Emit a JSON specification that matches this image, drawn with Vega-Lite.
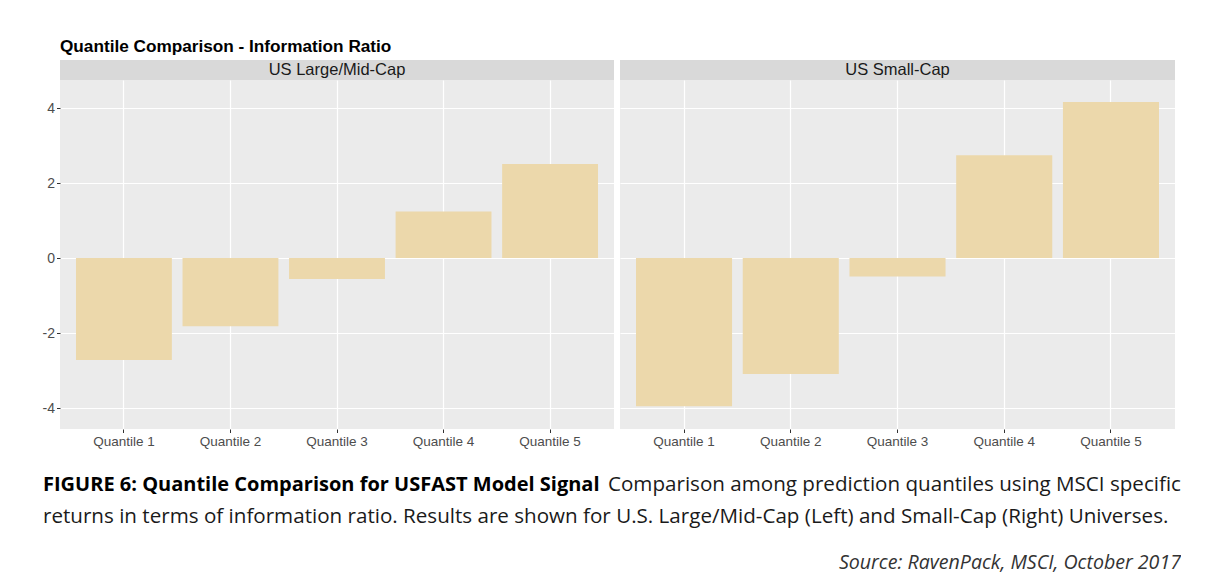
{
  "$schema": "https://vega.github.io/schema/vega-lite/v6.json",
  "background": "white",
  "padding": {"left": 42, "top": 37, "right": 0, "bottom": 0},
  "config": {
    "view": {"stroke": null},
    "font": "Liberation Sans",
    "concat": {"spacing": 6}
  },
  "datasets": {
    "ir": [
      {"universe": "US Large/Mid-Cap", "quantile": "Quantile 1", "ir": -2.72},
      {"universe": "US Large/Mid-Cap", "quantile": "Quantile 2", "ir": -1.82},
      {"universe": "US Large/Mid-Cap", "quantile": "Quantile 3", "ir": -0.56},
      {"universe": "US Large/Mid-Cap", "quantile": "Quantile 4", "ir": 1.24},
      {"universe": "US Large/Mid-Cap", "quantile": "Quantile 5", "ir": 2.51},
      {"universe": "US Small-Cap", "quantile": "Quantile 1", "ir": -3.95},
      {"universe": "US Small-Cap", "quantile": "Quantile 2", "ir": -3.09},
      {"universe": "US Small-Cap", "quantile": "Quantile 3", "ir": -0.49},
      {"universe": "US Small-Cap", "quantile": "Quantile 4", "ir": 2.74},
      {"universe": "US Small-Cap", "quantile": "Quantile 5", "ir": 4.16}
    ],
    "caption": [
      {"part": "bold", "text": "FIGURE 6: Quantile Comparison for USFAST Model Signal"},
      {"part": "rest1", "text": "Comparison among prediction quantiles using MSCI specific"},
      {"part": "line2", "text": "returns in terms of information ratio. Results are shown for U.S. Large/Mid-Cap (Left) and Small-Cap (Right) Universes."},
      {"part": "source", "text": "Source: RavenPack, MSCI, October 2017"}
    ]
  },
  "vconcat": [
    {
      "hconcat": [
        {
          "vconcat": [
            {
              "width": 554, "height": 20,
              "title": {"text": "Quantile Comparison - Information Ratio", "anchor": "start", "fontSize": 17.2, "fontWeight": "bold", "color": "#000000", "offset": 5},
              "view": {"fill": "#d9d9d9", "stroke": null},
              "data": {"values": [{"universe": "US Large/Mid-Cap"}]},
              "mark": {"type": "text", "fontSize": 16.5, "color": "#1a1a1a", "baseline": "middle"},
              "encoding": {"text": {"field": "universe"}}
            },
            {
              "width": 554, "height": 349,
              "view": {"fill": "#ebebeb", "stroke": null},
              "data": {"name": "ir"},
              "transform": [{"filter": "datum.universe === 'US Large/Mid-Cap'"}],
              "mark": {"type": "bar", "color": "#ecd8ab"},
              "encoding": {
                "x": {"field": "quantile", "type": "nominal", "sort": null,
                  "scale": {"paddingInner": 0.1, "paddingOuter": 0.15},
                  "axis": {"title": null, "labelAngle": 0, "bandPosition": 0.5, "grid": true, "gridColor": "#ffffff", "gridWidth": 1.2, "domain": false, "tickColor": "#333333", "tickSize": 3.5, "labelColor": "#4d4d4d", "labelFontSize": 13.5, "labelPadding": 2}},
                "y": {"field": "ir", "type": "quantitative",
                  "scale": {"domain": [-4.56, 4.747], "nice": false, "zero": false},
                  "axis": {"title": null, "values": [-4, -2, 0, 2, 4], "labelExpr": "datum.value < 0 ? '-' + abs(datum.value) : '' + datum.value", "grid": true, "gridColor": "#ffffff", "gridWidth": 1.2, "domain": false, "tickColor": "#333333", "tickSize": 3.5, "labelColor": "#4d4d4d", "labelFontSize": 14, "labelPadding": 2}},
                "y2": {"datum": 0}
              }
            }
          ],
          "spacing": 0
        },
        {
          "vconcat": [
            {
              "width": 555, "height": 20,
              "view": {"fill": "#d9d9d9", "stroke": null},
              "data": {"values": [{"universe": "US Small-Cap"}]},
              "mark": {"type": "text", "fontSize": 16.5, "color": "#1a1a1a", "baseline": "middle"},
              "encoding": {"text": {"field": "universe"}}
            },
            {
              "width": 555, "height": 349,
              "view": {"fill": "#ebebeb", "stroke": null},
              "data": {"name": "ir"},
              "transform": [{"filter": "datum.universe === 'US Small-Cap'"}],
              "mark": {"type": "bar", "color": "#ecd8ab"},
              "encoding": {
                "x": {"field": "quantile", "type": "nominal", "sort": null,
                  "scale": {"paddingInner": 0.1, "paddingOuter": 0.15},
                  "axis": {"title": null, "labelAngle": 0, "bandPosition": 0.5, "grid": true, "gridColor": "#ffffff", "gridWidth": 1.2, "domain": false, "tickColor": "#333333", "tickSize": 3.5, "labelColor": "#4d4d4d", "labelFontSize": 13.5, "labelPadding": 2}},
                "y": {"field": "ir", "type": "quantitative",
                  "scale": {"domain": [-4.56, 4.747], "nice": false, "zero": false},
                  "axis": {"title": null, "values": [-4, -2, 0, 2, 4], "grid": true, "gridColor": "#ffffff", "gridWidth": 1.2, "domain": false, "ticks": false, "labels": false}},
                "y2": {"datum": 0}
              }
            }
          ],
          "spacing": 0
        }
      ],
      "spacing": 6
    },
    {
      "width": 1115, "height": 135,
      "data": {"name": "caption"},
      "layer": [
        {
          "transform": [{"filter": "datum.part === 'bold'"}],
          "mark": {"type": "text", "font": "Open Sans", "fontWeight": "bold", "fontSize": 20, "color": "#000000", "align": "left", "baseline": "alphabetic", "x": -17, "y": 43},
          "encoding": {"text": {"field": "text"}}
        },
        {
          "transform": [{"filter": "datum.part === 'rest1'"}],
          "mark": {"type": "text", "font": "Open Sans", "fontSize": 20.6, "color": "#1a1a1a", "align": "left", "baseline": "alphabetic", "x": 548, "y": 43},
          "encoding": {"text": {"field": "text"}}
        },
        {
          "transform": [{"filter": "datum.part === 'line2'"}],
          "mark": {"type": "text", "font": "Open Sans", "fontSize": 20.6, "color": "#1a1a1a", "align": "left", "baseline": "alphabetic", "x": -17, "y": 75},
          "encoding": {"text": {"field": "text"}}
        },
        {
          "transform": [{"filter": "datum.part === 'source'"}],
          "mark": {"type": "text", "font": "Open Sans", "fontStyle": "italic", "fontSize": 19.6, "color": "#333333", "align": "right", "baseline": "alphabetic", "x": 1121, "y": 121},
          "encoding": {"text": {"field": "text"}}
        }
      ]
    }
  ],
  "spacing": 0
}
